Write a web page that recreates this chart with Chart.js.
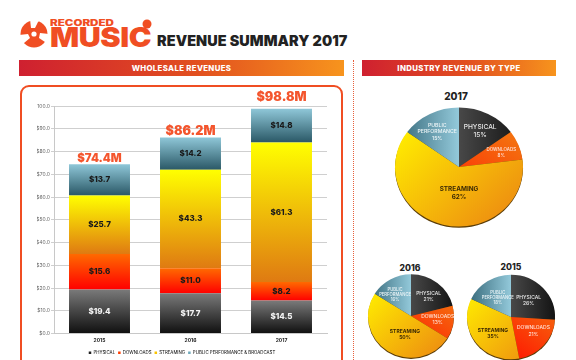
<!DOCTYPE html>
<html>
<head>
<meta charset="utf-8">
<script src="https://cdn.jsdelivr.net/npm/chart.js@4"></script>
<style>
  html, body { margin: 0; padding: 0; background: #fff; }
  body { width: 576px; height: 360px; overflow: hidden; position: relative; font-family: Inter, "Open Sans", sans-serif; }
  .abs { position: absolute; white-space: nowrap; }
  canvas { position: absolute; }
  .band { position: absolute; top: 60px; height: 16px; line-height: 16px; text-align: center; color: #fff; font-size: 7.8px; font-weight: 800; letter-spacing: 0.35px;
          background: linear-gradient(90deg, #cf2030, #e2501f 55%, #f7941d); }
  .frame { position: absolute; left: 20px; top: 85px; width: 319px; height: 280px; border: 2px solid #f04e23; border-radius: 9px; }
  .dots { position: absolute; left: 353px; top: 60px; height: 300px; border-left: 1px dotted #e8603c; }
  .pie-title { position: absolute; transform: translateX(-50%); font-weight: 800; color: #222; line-height: 1; }
</style>
</head>
<body>
<svg class="abs" style="left:19px;top:19px" width="30" height="29" viewBox="0 0 30 29">
  <circle cx="15" cy="15" r="13.5" fill="#f04e23"/>
  <circle cx="15" cy="15" r="2.6" fill="#fff"/>
  <path d="M11 0 L22 0 L19 3 L16 9 L12 9 Z M30 15 L30 26 L26 23 L20 19 L21 14 Z M0 16 L1 27 L5 24 L11 19 L9 15 Z" fill="#fff"/>
</svg>
<div class="abs" style="left:50px;top:18px;font-size:8.4px;font-weight:900;color:#f04e23;line-height:10px;transform:scaleX(1.38);transform-origin:0 0">RECORDED</div>
<div class="abs" style="left:50px;top:23px;font-size:27.5px;font-weight:900;color:#f04e23;line-height:28px;letter-spacing:-0.4px;transform:scaleX(1.11);transform-origin:0 0">MUSIC</div>
<svg class="abs" style="left:142px;top:19px" width="10" height="10" viewBox="0 0 10 10"><circle cx="5" cy="5" r="4.5" fill="#f04e23"/></svg>
<div class="abs" style="left:157px;top:33px;font-size:14.4px;font-weight:900;color:#222;line-height:16px;letter-spacing:0.1px">REVENUE SUMMARY 2017</div>

<div class="band" style="left:19px;width:325px">WHOLESALE REVENUES</div>
<div class="band" style="left:362px;width:194px">INDUSTRY REVENUE BY TYPE</div>
<div class="dots"></div>
<div class="frame"></div>

<canvas id="barChart" style="left:0;top:90px" width="345" height="275"></canvas>

<div class="pie-title" style="left:456px;top:91px;font-size:10px">2017</div>
<canvas id="pie2017" style="left:393px;top:101px" width="132" height="132"></canvas>
<div class="pie-title" style="left:410px;top:264px;font-size:8.6px">2016</div>
<canvas id="pie2016" style="left:366px;top:271px" width="90" height="90"></canvas>
<div class="pie-title" style="left:511px;top:263px;font-size:8.6px">2015</div>
<canvas id="pie2015" style="left:465px;top:271px" width="92" height="92"></canvas>

<script>
const years = ["2015", "2016", "2017"];
const physical = [19.4, 17.7, 14.5];
const downloads = [15.6, 11.0, 8.2];
const streaming = [25.7, 43.3, 61.3];
const performance = [13.7, 14.2, 14.8];
const totals = ["$74.4M", "$86.2M", "$98.8M"];
const totalGaps = [5.5, 6.5, 12];
const totalSizes = [11.4, 12.6, 12.6];

const typeLabels = ["PHYSICAL", "DOWNLOADS", "STREAMING", "PUBLIC PERFORMANCE & BROADCAST"];
const pieNames = [["PHYSICAL"], ["DOWNLOADS"], ["STREAMING"], ["PUBLIC", "PERFORMANCE"]];
const share2017 = [15, 8, 62, 15];
const share2016 = [21, 13, 50, 16];
const share2015 = [26, 21, 35, 18];

const orange = "#f4552d";
const legendColors = ["#222222", "#ff3d00", "#f9c400", "#6fa9bb"];

// sfumatura verticale di ogni pezzo della colonna
function barGradient(stops, values, below) {
    return function (context) {
        const scale = context.chart.scales.y;
        if (!scale || context.dataIndex === undefined) return stops[0];
        const i = context.dataIndex;
        const base = below.reduce((sum, arr) => sum + arr[i], 0);
        const y0 = scale.getPixelForValue(base + values[i]);
        const y1 = scale.getPixelForValue(base);
        const g = context.chart.ctx.createLinearGradient(0, y0, 0, y1);
        g.addColorStop(0, stops[0]);
        g.addColorStop(1, stops[1]);
        return g;
    };
}

const barLabels = {
    id: "barLabels",
    afterDatasetsDraw(chart) {
        const ctx = chart.ctx;
        ctx.save();
        ctx.textAlign = "center";
        ctx.textBaseline = "middle";
        chart.data.datasets.forEach((ds, d) => {
            chart.getDatasetMeta(d).data.forEach((bar, i) => {
                ctx.font = "800 8px Inter";
                ctx.fillStyle = d === 0 ? "#f2f2f2" : "#1a1a1a";
                ctx.fillText("$" + ds.data[i].toFixed(1), bar.x, (bar.y + bar.base) / 2);
                if (d === 3) {
                    ctx.font = "900 " + totalSizes[i] + "px Inter";
                    ctx.fillStyle = orange;
                    ctx.fillText(totals[i], bar.x, bar.y - totalGaps[i]);
                }
            });
        });
        ctx.restore();
    },
};

new Chart(document.getElementById("barChart"), {
    type: "bar",
    data: {
        labels: years,
        datasets: [
            { label: typeLabels[0], data: physical, backgroundColor: barGradient(["#7a7a7a", "#0f0f0f"], physical, []) },
            { label: typeLabels[1], data: downloads, backgroundColor: barGradient(["#ff6a00", "#ff0000"], downloads, [physical]) },
            { label: typeLabels[2], data: streaming, backgroundColor: barGradient(["#ffff00", "#df7a12"], streaming, [physical, downloads]) },
            { label: typeLabels[3], data: performance, backgroundColor: barGradient(["#8fc7d8", "#2a5866"], performance, [physical, downloads, streaming]) },
        ],
    },
    options: {
        responsive: false,
        animation: false,
        barPercentage: 0.67,
        categoryPercentage: 1,
        layout: { padding: { left: 37, right: 18, top: 16, bottom: 0 } },
        scales: {
            x: {
                stacked: true,
                afterFit(scale) { scale.height += 2; },
                grid: { display: false, drawTicks: true, tickLength: 2 },
                border: { color: "#c8c8c8" },
                ticks: { color: "#222", padding: 2, font: { size: 5, weight: "700", family: "Inter" } },
            },
            y: {
                stacked: true,
                min: 0,
                max: 100,
                afterFit(scale) { scale.width = 17; },
                grid: { color: "#cfcfcf", tickLength: 3 },
                border: { color: "#c8c8c8" },
                ticks: {
                    stepSize: 10,
                    padding: 1,
                    color: "#666",
                    font: { size: 5, family: "Inter" },
                    callback: (v) => "$" + v.toFixed(1),
                },
            },
        },
        plugins: {
            tooltip: { enabled: false },
            legend: {
                position: "bottom",
                labels: {
                    usePointStyle: true,
                    pointStyle: "rect",
                    boxWidth: 2.5,
                    boxHeight: 2.5,
                    padding: 3,
                    color: "#555",
                    font: { size: 4.4, family: "Inter" },
                    generateLabels: () => typeLabels.map((text, i) => ({
                        text, fillStyle: legendColors[i], strokeStyle: legendColors[i], lineWidth: 0, pointStyle: "rect", datasetIndex: i,
                    })),
                },
            },
        },
    },
    plugins: [barLabels],
});

// gradienti delle fette
function sliceFill(index, chart) {
    const w = chart.width, h = chart.height, ctx = chart.ctx;
    let g;
    if (index === 0) {
        g = ctx.createLinearGradient(w / 2, 0, w, 0);
        g.addColorStop(0, "#484848");
        g.addColorStop(1, "#111111");
    } else if (index === 1) {
        g = ctx.createLinearGradient(w / 2, h, w, h / 3);
        g.addColorStop(0, "#ff1500");
        g.addColorStop(1, "#f4700f");
    } else if (index === 2) {
        g = ctx.createLinearGradient(0, h * 0.25, w * 0.75, h);
        g.addColorStop(0, "#ffee00");
        g.addColorStop(1, "#ee8f10");
    } else {
        g = ctx.createLinearGradient(0, 0, w / 2, 0);
        g.addColorStop(0, "#2f6172");
        g.addColorStop(1, "#93c9da");
    }
    return g;
}

function pieChart(id, values, opts) {
    const tilt = {
        id: "tilt",
        beforeDatasetsDraw(chart) {
            const ctx = chart.ctx, arc = chart.getDatasetMeta(0).data[0];
            ctx.save();
            ctx.fillStyle = "#5b3d08";
            ctx.beginPath();
            ctx.ellipse(arc.x, arc.y + 1.3, arc.outerRadius, arc.outerRadius * opts.squash, 0, 0, Math.PI * 2);
            ctx.fill();
            ctx.translate(arc.x, arc.y);
            ctx.scale(1, opts.squash);
            ctx.translate(-arc.x, -arc.y);
        },
        afterDatasetsDraw(chart) {
            const ctx = chart.ctx, arc = chart.getDatasetMeta(0).data[0];
            ctx.restore();
            ctx.textAlign = "center";
            ctx.textBaseline = "middle";
            pieNames.forEach((name, i) => {
                const size = opts.sizes[i];
                const cx = arc.x + opts.spots[i][0] * arc.outerRadius;
                const cy = arc.y + opts.spots[i][1] * arc.outerRadius;
                const lines = name.concat(values[i] + "%");
                ctx.font = (i === 2 ? "700 " : "500 ") + size + "px Inter";
                ctx.fillStyle = ["#e8e8e8", "#ffe3d8", "#3c2a05", "#eef6f8"][i];
                lines.forEach((line, n) => {
                    ctx.fillText(line, cx, cy + (n - (lines.length - 1) / 2) * size * 1.25);
                });
            });
        },
    };
    new Chart(document.getElementById(id), {
        type: "pie",
        data: {
            labels: typeLabels,
            datasets: [{
                data: values,
                borderWidth: 0,
                backgroundColor: (context) => sliceFill(context.dataIndex, context.chart),
            }],
        },
        options: {
            responsive: false,
            animation: false,
            layout: { padding: 2 },
            plugins: { legend: { display: false }, tooltip: { enabled: false } },
        },
        plugins: [tilt],
    });
}

pieChart("pie2017", share2017, {
    squash: 0.93,
    sizes: [6.6, 4.5, 6.4, 5.2],
    spots: [[0.33, -0.56], [0.66, -0.22], [0, 0.4], [-0.34, -0.55]],
});
pieChart("pie2016", share2016, {
    squash: 0.97,
    sizes: [5, 5, 5, 4.2],
    spots: [[0.41, -0.45], [0.62, 0.08], [-0.14, 0.43], [-0.37, -0.5]],
});
pieChart("pie2015", share2015, {
    squash: 0.96,
    sizes: [5, 5, 5, 4.2],
    spots: [[0.4, -0.37], [0.51, 0.32], [-0.41, 0.37], [-0.3, -0.44]],
});
</script>
</body>
</html>
